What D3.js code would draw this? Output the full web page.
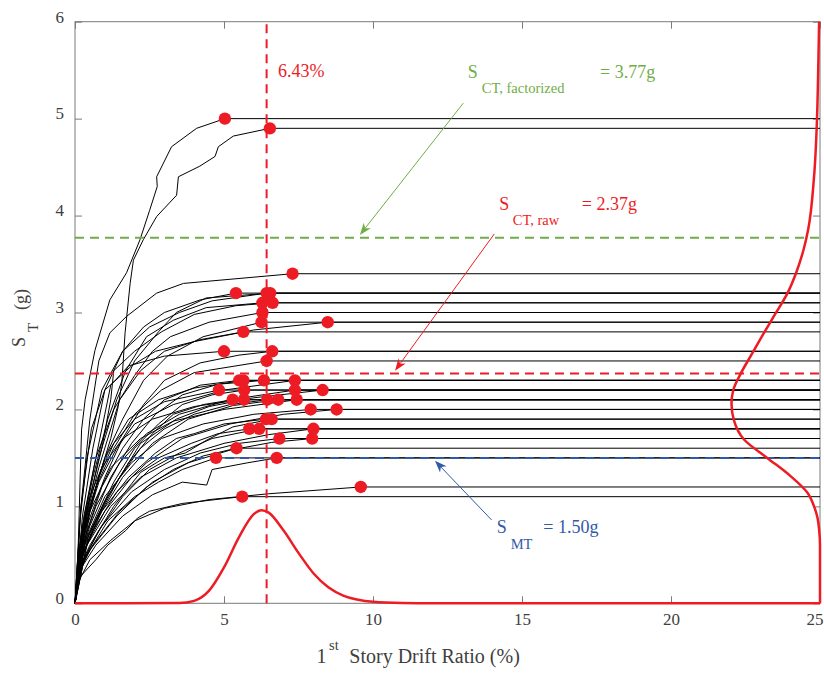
<!DOCTYPE html>
<html><head><meta charset="utf-8">
<script src="https://cdn.jsdelivr.net/npm/d3@7"></script>
<style>
body{margin:0;background:#fff;}
svg{display:block;}
text{font-family:"Liberation Serif","Times New Roman",serif;}
</style>
</head><body>
<svg id="chart" width="824" height="673"></svg>
<script>
// ---------------- data ----------------
const xTickValues = [0, 5, 10, 15, 20, 25];
const yTickValues = [0, 1, 2, 3, 4, 5, 6];

// collapse points (red dots) of the IDA curves
const collapseX = [5.03,6.54,7.30,5.40,6.43,6.55,6.29,6.63,6.29,6.26,8.48,5.65,5.00,6.62,6.43,5.51,5.65,6.34,7.38,4.83,5.68,7.38,8.31,5.29,5.67,6.45,6.82,7.44,7.91,8.78,6.41,6.60,5.85,6.18,8.00,6.86,7.96,5.42,4.73,6.77,9.59,5.61];
const collapseY = [5.00,4.90,3.40,3.20,3.20,3.20,3.10,3.10,3.00,2.90,2.90,2.80,2.60,2.60,2.50,2.30,2.30,2.30,2.30,2.20,2.20,2.20,2.20,2.10,2.10,2.10,2.10,2.10,2.00,2.00,1.90,1.90,1.80,1.80,1.80,1.70,1.70,1.60,1.50,1.50,1.20,1.10];

// interior points of each IDA curve (between origin and collapse point)
const idaPaths = [
 [[0.1,0.5],[0.22,1.79],[0.34,2.1],[0.67,2.61],[1.17,3.13],[1.73,3.41],[2.18,3.75],[2.5,4.05],[2.76,4.30],[2.74,4.40],[3.24,4.71],[4.08,4.90]],
 [[0.3,0.7],[0.8,1.3],[1.2,1.7],[1.45,2.03],[1.57,2.27],[1.68,2.79],[1.85,3.3],[1.96,3.54],[2.29,3.75],[2.74,3.99],[3.41,4.21],[3.47,4.40],[4.19,4.51],[4.70,4.61],[4.81,4.71],[5.31,4.82]],
 [[0.2,1.0],[0.5,1.9],[0.8,2.5],[1.17,2.79],[1.73,2.96],[2.74,3.20],[3.64,3.30]],
 [[0.25,0.9],[0.6,1.6],[1.0,2.2],[1.6,2.6],[2.3,2.85],[3.0,3.0],[4.2,3.13]],
 [[0.15,0.8],[0.4,1.5],[0.9,2.2],[1.6,2.6],[2.5,2.85],[3.5,3.0],[4.6,3.12]],
 [[0.3,0.8],[0.8,1.5],[1.4,2.1],[2.0,2.5],[2.8,2.8],[3.4,3.0],[4.4,3.15]],
 [[0.2,0.7],[0.6,1.3],[1.1,1.9],[1.7,2.4],[2.4,2.75],[3.3,2.92],[4.4,3.05]],
 [[0.35,0.9],[0.9,1.6],[1.2,2.1],[1.3,2.4],[2.0,2.6],[2.9,2.8],[4.0,2.98],[5.4,3.07]],
 [[0.25,0.8],[0.7,1.5],[1.3,2.0],[2.0,2.35],[2.6,2.6],[3.2,2.75],[4.5,2.9]],
 [[0.12,0.45],[0.4,0.9],[1.0,1.5],[1.6,1.9],[2.3,2.3],[3.1,2.55],[4.3,2.75]],
 [[0.2,1.0],[0.55,1.8],[1.0,2.2],[1.9,2.45],[2.7,2.6],[4.0,2.7],[6.0,2.82]],
 [[0.3,0.8],[0.8,1.4],[1.2,1.8],[1.5,2.1],[2.2,2.4],[3.0,2.6],[4.2,2.72]],
 [[0.3,0.9],[0.7,1.5],[1.0,1.95],[1.2,2.25],[1.8,2.45],[3.0,2.55]],
 [[0.1,0.4],[0.4,0.8],[1.0,1.3],[1.6,1.7],[2.3,2.05],[3.0,2.3],[4.2,2.48],[5.5,2.56]],
 [[0.2,0.6],[0.7,1.2],[1.3,1.6],[2.0,1.95],[2.9,2.2],[4.0,2.38]],
 [[0.35,0.7],[0.9,1.2],[1.6,1.6],[2.3,1.9],[3.0,2.1],[4.2,2.25]],
 [[0.15,0.6],[0.5,1.1],[1.1,1.55],[1.8,1.9],[2.8,2.1],[4.0,2.22]],
 [[0.15,0.45],[0.5,0.8],[1.2,1.3],[1.9,1.65],[2.7,1.95],[3.6,2.15],[4.8,2.26]],
 [[0.25,0.7],[0.8,1.25],[1.4,1.6],[2.0,1.85],[3.3,2.05],[5.0,2.2]],
 [[0.3,0.75],[0.8,1.3],[1.3,1.65],[2.0,1.9],[3.0,2.08]],
 [[0.2,0.5],[0.6,0.8],[1.3,1.25],[2.0,1.6],[2.8,1.85],[3.6,2.05],[4.6,2.15]],
 [[0.2,0.55],[0.7,1.0],[1.5,1.45],[2.4,1.75],[3.5,1.95],[5.2,2.1]],
 [[0.4,0.9],[0.9,1.4],[1.6,1.7],[2.6,1.9],[4.0,2.03],[6.0,2.12]],
 [[0.3,0.6],[1.0,1.05],[1.8,1.45],[2.6,1.75],[3.3,1.95],[4.3,2.05]],
 [[0.45,0.7],[1.1,1.1],[1.7,1.4],[2.2,1.65],[3.4,1.9],[4.5,2.03]],
 [[0.25,0.5],[0.7,0.85],[1.5,1.3],[2.2,1.6],[3.0,1.8],[4.0,1.95],[5.2,2.05]],
 [[0.2,0.45],[0.8,0.9],[1.6,1.3],[2.6,1.65],[3.8,1.9],[5.3,2.04]],
 [[0.5,0.95],[1.2,1.4],[2.2,1.7],[3.3,1.88],[5.0,2.0]],
 [[0.35,0.65],[1.0,1.1],[1.9,1.45],[2.9,1.7],[4.3,1.85],[6.0,1.95]],
 [[0.15,0.4],[0.6,0.75],[1.4,1.15],[2.4,1.45],[3.6,1.7],[5.2,1.85],[7.0,1.95]],
 [[0.25,0.5],[0.9,0.95],[1.8,1.3],[2.7,1.55],[3.4,1.7],[4.0,1.75],[5.0,1.85]],
 [[0.12,0.35],[0.5,0.6],[1.3,1.0],[2.2,1.35],[3.0,1.5],[3.7,1.55],[4.4,1.68],[5.3,1.82]],
 [[0.3,0.55],[1.0,0.95],[1.9,1.3],[2.8,1.5],[3.9,1.65],[4.8,1.75]],
 [[0.2,0.4],[0.8,0.75],[1.6,1.1],[2.5,1.38],[3.5,1.55],[4.6,1.7]],
 [[0.4,0.6],[1.2,1.0],[2.2,1.3],[3.4,1.5],[5.0,1.65],[6.5,1.74]],
 [[0.2,0.4],[0.9,0.8],[1.9,1.15],[3.0,1.38],[4.2,1.55],[5.5,1.65]],
 [[0.15,0.35],[0.6,0.6],[1.5,0.95],[2.6,1.25],[3.8,1.45],[5.2,1.58],[6.6,1.66]],
 [[0.12,0.3],[0.5,0.55],[1.4,0.9],[2.4,1.2],[3.3,1.38],[4.3,1.52]],
 [[0.3,0.45],[1.1,0.85],[2.0,1.1],[2.8,1.25],[3.6,1.38]],
 [[0.18,0.35],[0.7,0.6],[1.6,0.9],[2.6,1.12],[3.6,1.25],[4.42,1.22],[4.6,1.38],[5.8,1.45]],
 [[0.08,0.2],[0.5,0.45],[1.2,0.65],[2.0,0.85],[3.0,0.98],[4.5,1.07],[6.5,1.13]],
 [[0.1,0.25],[0.7,0.45],[1.1,0.6],[1.7,0.75],[2.1,0.88],[2.5,0.95],[3.6,1.03],[5.0,1.08]]
];

// reference levels
const medianDrift = 6.43;
const sctFactorized = 3.77;
const sctRaw = 2.37;
const smt = 1.50;

// fitted distribution of collapse drift (drawn along the bottom)
const driftPdfX = [0, 3.5, 4.0, 4.5, 5.0, 5.5, 6.0, 6.26, 6.5, 7.0, 7.5, 8.0, 8.5, 9.0, 9.5, 10.0, 11.0, 12.0, 25];
const driftPdfH = [0, 0.002, 0.025, 0.13, 0.37, 0.68, 0.92, 0.96, 0.935, 0.75, 0.52, 0.31, 0.165, 0.08, 0.037, 0.016, 0.003, 0, 0];

// fitted distribution of collapse intensity (drawn along the right edge)
const capPdfY = [0, 0.6, 0.76, 0.89, 1.0, 1.14, 1.31, 1.5, 1.69, 1.89, 2.06, 2.2, 2.37, 2.58, 2.79, 2.99, 3.2, 3.41, 3.65, 3.85, 4.4, 5.0, 5.5, 6.0];
const capPdfW = [0, 0, 0.03, 0.09, 0.2, 0.42, 0.98, 1.77, 2.55, 2.89, 2.97, 2.91, 2.66, 2.27, 1.88, 1.49, 1.09, 0.8, 0.55, 0.4, 0.2, 0.1, 0.06, 0.03];

// ---------------- layout ----------------
const W = 824, H = 673;
const plot = {left: 75, right: 820, top: 21.7, bottom: 603.3};
const RED = "#ed1c24", GREEN = "#70ad47", BLUE = "#2f5aa8";
const AXIS = "#7a7a7a", TXT = "#404040";

const svg = d3.select("#chart");
const x = d3.scaleLinear().domain([0, 25]).range([plot.left, plot.right]);
const y = d3.scaleLinear().domain([0, 6]).range([plot.bottom, plot.top]);
const [xMin, xMax] = x.domain();
const [yMin, yMax] = y.domain();

// axes (inward ticks)
function styleAxis(g){
  g.select(".domain").remove();
  g.selectAll(".tick line").attr("stroke", AXIS).attr("stroke-width", 1);
  g.selectAll("text").attr("fill", TXT).style("font-size", "17px")
    .style("font-family", '"Liberation Serif","Times New Roman",serif');
}
const xAx = svg.append("g").attr("transform", `translate(0,${plot.bottom})`)
  .call(d3.axisBottom(x).tickValues(xTickValues).tickSizeInner(-7).tickSizeOuter(0).tickPadding(9.8).tickFormat(d3.format("d")))
  .call(styleAxis);
// keep the last label inside the window edge
xAx.selectAll(".tick text").filter(d => d === xMax).attr("text-anchor", "end").attr("x", W - plot.right - 1);
svg.append("g").attr("transform", `translate(0,${plot.top})`)
  .call(d3.axisTop(x).tickValues(xTickValues).tickSizeInner(-7).tickSizeOuter(0).tickFormat(""))
  .call(styleAxis);
const yAx = svg.append("g").attr("transform", `translate(${plot.left},0)`)
  .call(d3.axisLeft(y).tickValues(yTickValues).tickSizeInner(-7).tickSizeOuter(0).tickPadding(11).tickFormat(d3.format("d")))
  .call(styleAxis);
yAx.selectAll("text").attr("dy", "0.02em");
svg.append("g").attr("transform", `translate(${plot.right},0)`)
  .call(d3.axisRight(y).tickValues(yTickValues).tickSizeInner(-7).tickSizeOuter(0).tickFormat(""))
  .call(styleAxis);

// box
svg.append("rect").attr("x", x(xMin)).attr("y", y(yMax))
  .attr("width", x(xMax) - x(xMin)).attr("height", y(yMin) - y(yMax))
  .attr("fill", "none").attr("stroke", AXIS).attr("stroke-width", 1);

// IDA curves
const line = d3.line().x(d => x(d[0])).y(d => y(d[1]));
const curvesG = svg.append("g");
idaPaths.forEach((pts, i) => {
  const full = [[0, 0]].concat(pts, [[collapseX[i], collapseY[i]], [xMax, collapseY[i]]]);
  curvesG.append("path").attr("d", line(full))
    .attr("fill", "none").attr("stroke", "#000").attr("stroke-width", 1)
    .attr("stroke-linejoin", "round");
});

// dashed reference lines
function hDash(val, color){
  svg.append("line").attr("x1", x(xMin)).attr("x2", x(xMax))
    .attr("y1", y(val)).attr("y2", y(val))
    .attr("stroke", color).attr("stroke-width", 2).attr("stroke-dasharray", "9,6");
}
hDash(sctFactorized, GREEN);
hDash(sctRaw, RED);
hDash(smt, BLUE);
svg.append("line").attr("x1", x(medianDrift)).attr("x2", x(medianDrift))
  .attr("y1", y(yMin)).attr("y2", y(yMax))
  .attr("stroke", RED).attr("stroke-width", 2).attr("stroke-dasharray", "9,6");

// distributions
const bottomPdf = d3.line().x((d, i) => x(driftPdfX[i])).y((d, i) => y(driftPdfH[i])).curve(d3.curveMonotoneX);
svg.append("path").attr("d", bottomPdf(driftPdfX))
  .attr("fill", "none").attr("stroke", RED).attr("stroke-width", 2.5);
const rightPdf = d3.line().x((d, i) => x(xMax - capPdfW[i])).y((d, i) => y(capPdfY[i])).curve(d3.curveMonotoneY);
svg.append("path").attr("d", rightPdf(capPdfY))
  .attr("fill", "none").attr("stroke", RED).attr("stroke-width", 2.5);

// collapse points
svg.append("g").selectAll("circle").data(collapseX).join("circle")
  .attr("cx", (d, i) => x(d)).attr("cy", (d, i) => y(collapseY[i]))
  .attr("r", 6.2).attr("fill", RED);

// annotation: median drift
svg.append("text").attr("x", x(6.81)).attr("y", y(5.43))
  .attr("fill", RED).style("font-size", "18px").text(medianDrift.toFixed(2) + "%");

// arrows
function arrow(x0, y0, x1, y1, color){
  const X0 = x(x0), Y0 = y(y0), X1 = x(x1), Y1 = y(y1);
  const ang = Math.atan2(Y1 - Y0, X1 - X0);
  const L = 12, Wd = 4.5, N = 8.5;
  const ca = Math.cos(ang), sa = Math.sin(ang);
  const p = (a, b) => [X1 - a * ca - b * sa, Y1 - a * sa + b * ca];
  svg.append("line").attr("x1", X0).attr("y1", Y0).attr("x2", p(N,0)[0]).attr("y2", p(N,0)[1])
    .attr("stroke", color).attr("stroke-width", 1);
  svg.append("path").attr("d", "M" + [[X1, Y1], p(L, Wd), p(N, 0), p(L, -Wd)].map(q => q.join(",")).join("L") + "Z")
    .attr("fill", color);
}
arrow(13.03, 5.16, 9.56, 3.80, GREEN);
arrow(14.07, 3.81, 10.74, 2.40, RED);
arrow(13.98, 0.86, 12.08, 1.47, BLUE);

// labels S_xx = value
function sLabel(xv, yv, sub, value, color, subDx, valDx){
  const X = x(xv), Y = y(yv);
  svg.append("text").attr("x", X).attr("y", Y).attr("fill", color).style("font-size", "18px").text("S");
  svg.append("text").attr("x", X + subDx).attr("y", Y + 15.5).attr("fill", color).style("font-size", "14.5px").text(sub);
  svg.append("text").attr("x", X + valDx).attr("y", Y).attr("fill", color).style("font-size", "18px").text(value);
}
sLabel(13.18, 5.42, "CT, factorized", "= " + sctFactorized.toFixed(2) + "g", GREEN, 14, 132.3);
sLabel(14.24, 4.06, "CT, raw", "= " + sctRaw.toFixed(2) + "g", RED, 13.4, 82.4);
sLabel(14.15, 0.725, "MT", "= " + smt.toFixed(2) + "g", BLUE, 14, 46.6);

// axis titles
const xl = svg.append("g").attr("fill", TXT);
xl.append("text").attr("x", 316.5).attr("y", 663.3).style("font-size", "20px").text("1");
xl.append("text").attr("x", 329).attr("y", 650).style("font-size", "14.5px").text("st");
xl.append("text").attr("x", 349.3).attr("y", 663.3).style("font-size", "20px").text("Story Drift Ratio (%)");

const yl = svg.append("g").attr("fill", TXT).attr("transform", "translate(25,347) rotate(-90)");
yl.append("text").attr("x", 0).attr("y", 0).style("font-size", "18px").text("S");
yl.append("text").attr("x", 15).attr("y", 13).style("font-size", "15px").text("T");
yl.append("text").attr("x", 37).attr("y", 2).style("font-size", "18px").text("(g)");
</script>
</body></html>
